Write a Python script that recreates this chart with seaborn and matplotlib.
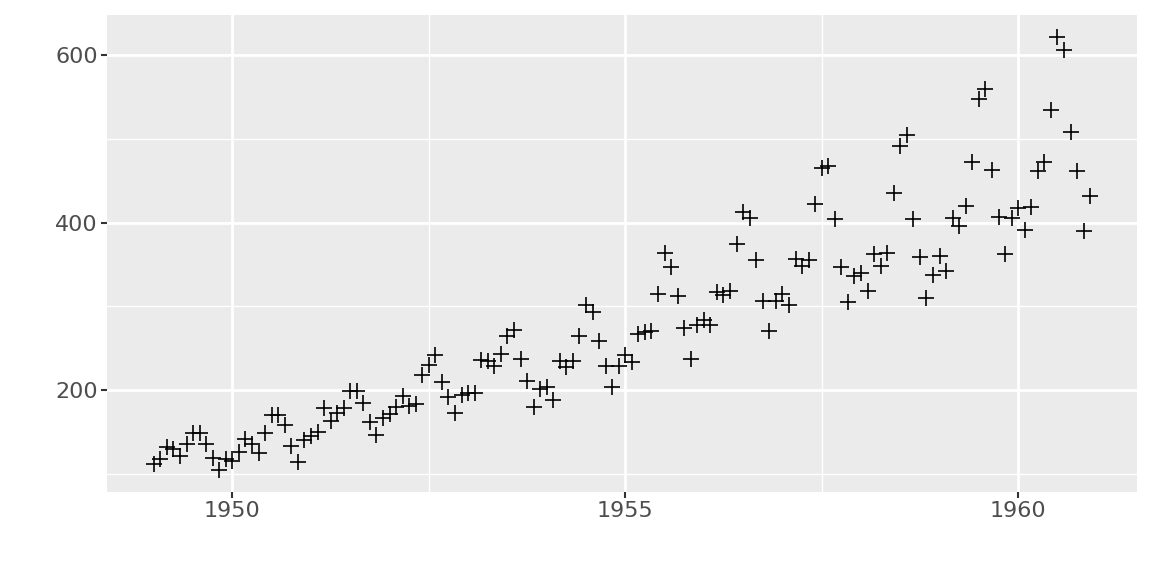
import numpy as np
import matplotlib
matplotlib.use('Agg')
import matplotlib.pyplot as plt
import matplotlib.ticker as mticker
import seaborn as sns
import pandas as pd

#### DATA ####
years = list(range(1949, 1961))
months = list(range(1, 13))
passengers = [
    112, 118, 132, 129, 121, 135, 148, 148, 136, 119, 104, 118,
    115, 126, 141, 135, 125, 149, 170, 170, 158, 133, 114, 140,
    145, 150, 178, 163, 172, 178, 199, 199, 184, 162, 146, 166,
    171, 180, 193, 181, 183, 218, 230, 242, 209, 191, 172, 194,
    196, 196, 236, 235, 229, 243, 264, 272, 237, 211, 180, 201,
    204, 188, 235, 227, 234, 264, 302, 293, 259, 229, 203, 229,
    242, 233, 267, 269, 270, 315, 364, 347, 312, 274, 237, 278,
    284, 277, 317, 313, 318, 374, 413, 405, 355, 306, 271, 306,
    315, 301, 356, 348, 355, 422, 465, 467, 404, 347, 305, 336,
    340, 318, 362, 348, 363, 435, 491, 505, 404, 359, 310, 337,
    360, 342, 406, 396, 420, 472, 548, 559, 463, 407, 362, 405,
    417, 391, 419, 461, 472, 535, 622, 606, 508, 461, 390, 432,
]

df = pd.DataFrame({
    'year': np.repeat(years, len(months)),
    'month': np.tile(months, len(years)),
    'passengers': passengers,
})
df['time'] = df['year'] + (df['month'] - 1) / 12

#### STYLE (ggplot-like) ####
sns.set_theme(style='darkgrid', rc={
    'axes.facecolor': '#EBEBEB',
    'grid.color': 'white',
    'axes.edgecolor': '#EBEBEB',
    'xtick.color': '#333333',
    'ytick.color': '#333333',
    'xtick.labelcolor': '#4D4D4D',
    'ytick.labelcolor': '#4D4D4D',
    'xtick.bottom': True,
    'ytick.left': True,
    'xtick.major.size': 4.2,
    'ytick.major.size': 4.2,
    'xtick.major.width': 1.5,
    'ytick.major.width': 1.5,
})
plt.rcParams['font.family'] = ['DejaVu Sans']

fig = plt.figure(figsize=(11.52, 5.76), dpi=100)
ax = fig.add_axes([107 / 1152, 1 - 492 / 576, 1030 / 1152, 477 / 576])

sns.scatterplot(data=df, x='time', y='passengers', marker='+', s=135,
                color='black', linewidth=1.2, ax=ax, zorder=3)

xr = df['time'].max() - df['time'].min()
yr = df['passengers'].max() - df['passengers'].min()
ax.set_xlim(df['time'].min() - 0.05 * xr, df['time'].max() + 0.05 * xr)
ax.set_ylim(df['passengers'].min() - 0.05 * yr, df['passengers'].max() + 0.05 * yr)

ax.xaxis.set_major_locator(mticker.FixedLocator([1950, 1955, 1960]))
ax.xaxis.set_minor_locator(mticker.FixedLocator([1947.5, 1952.5, 1957.5]))
ax.yaxis.set_major_locator(mticker.FixedLocator([200, 400, 600]))
ax.yaxis.set_minor_locator(mticker.FixedLocator([100, 300, 500]))
ax.xaxis.set_major_formatter(mticker.FormatStrFormatter('%d'))
ax.yaxis.set_major_formatter(mticker.FormatStrFormatter('%d'))
ax.tick_params(which='major', labelsize=16, pad=2.5)
ax.tick_params(which='minor', length=0)
ax.grid(which='major', color='white', linewidth=2.0)
ax.grid(which='minor', color='white', linewidth=1.0)
for s in ax.spines.values():
    s.set_visible(False)

ax.set_xlabel('')
ax.set_ylabel('')

fig.savefig('out.png', dpi=100)
